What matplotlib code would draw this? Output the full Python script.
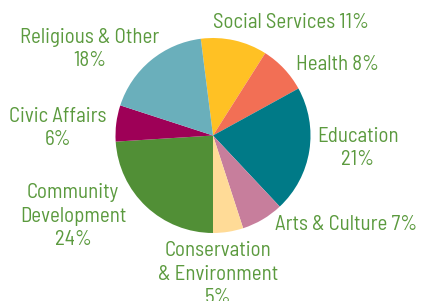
import matplotlib
matplotlib.use("Agg")
import matplotlib.pyplot as plt

# data (clockwise from the top)
categories = ["Social Services", "Health", "Education", "Arts & Culture",
              "Conservation\n& Environment", "Community\nDevelopment",
              "Civic Affairs", "Religious & Other"]
shares = [11, 8, 21, 7, 5, 24, 6, 18]
colors = ["#ffc124", "#f26f55", "#007a87", "#c77e9c",
          "#ffdb97", "#518f36", "#9e0057", "#6aafbb"]

# label layout: (x px, y px, separator between name and value)
label_pos = [(291, 22, " "), (338, 64, " "), (358, 148, "\n"), (346, 224, " "),
             (218, 274, "\n"), (73, 216, "\n"), (58, 128, "\n"), (90, 49, "\n")]

W, H = 421, 301
fig = plt.figure(figsize=(W / 100, H / 100), dpi=100)

cx, cy, r = 213, 135.5, 97.5
ax = fig.add_axes([(cx - r) / W, (H - cy - r) / H, 2 * r / W, 2 * r / H])
ax.pie(shares, colors=colors, startangle=97.2, counterclock=False,
       wedgeprops=dict(linewidth=0))
ax.set_xlim(-1, 1)
ax.set_ylim(-1, 1)
ax.axis("off")

for name, val, (x, y, sep) in zip(categories, shares, label_pos):
    fig.text(x / W, 1 - y / H, f"{name}{sep}{val}%", ha="center", va="center",
             color="#5b9a3e", fontsize=15, family="Barlow Semi Condensed",
             linespacing=1.32, multialignment="center")

fig.savefig("out.png", dpi=100)
